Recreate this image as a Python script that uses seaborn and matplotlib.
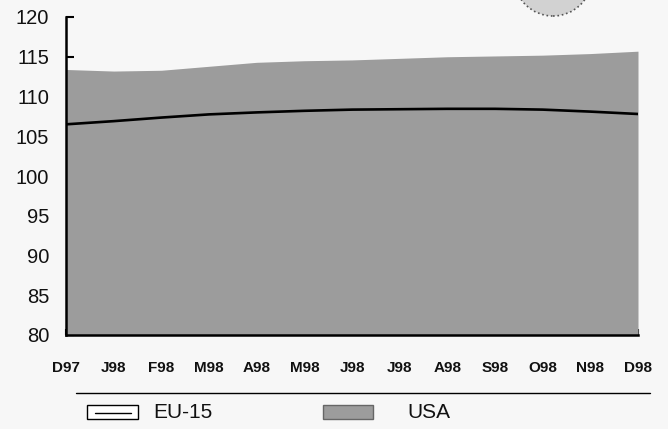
import numpy as np
import pandas as pd
import matplotlib
matplotlib.use("Agg")
import matplotlib.pyplot as plt
from matplotlib.patches import Rectangle, Ellipse
from matplotlib.lines import Line2D
import seaborn as sns

months = ["D97", "J98", "F98", "M98", "A98", "M98", "J98",
          "J98", "A98", "S98", "O98", "N98", "D98"]
eu15 = [106.5, 106.9, 107.35, 107.75, 108.0, 108.2, 108.35,
        108.4, 108.45, 108.45, 108.35, 108.1, 107.8]
usa = [113.4, 113.2, 113.3, 113.8, 114.3, 114.5, 114.6,
       114.8, 115.0, 115.1, 115.2, 115.4, 115.7]
y_ticks = [80, 85, 90, 95, 100, 105, 110, 115, 120]

df = pd.DataFrame({"pos": np.arange(len(months)), "month": months,
                   "EU-15": eu15, "USA": usa})

W, H = 668, 429
BG = "#f7f7f7"
GRAY = "#9c9c9c"

sns.set_theme(style="ticks")
plt.rcParams["font.family"] = ["Liberation Sans", "DejaVu Sans"]

fig = plt.figure(figsize=(W / 100, H / 100), dpi=100, facecolor=BG)
ax = fig.add_axes([66 / W, 1 - 335 / H, (638 - 66) / W, (335 - 17) / H])
ax.set_facecolor(BG)


def px(x, y):
    return x / W, 1 - y / H


# USA area
ax.fill_between(df["pos"], 80, df["USA"], color=GRAY, linewidth=0, zorder=1)
# EU-15 line
sns.lineplot(data=df, x="pos", y="EU-15", color="black", linewidth=1.9,
             ax=ax, zorder=3)

ax.set_xlim(0, 12)
ax.set_ylim(80, 120)
ax.set_xticks(df["pos"])
ax.set_xticklabels(months, fontsize=11, fontweight="bold")
ax.set_yticks(y_ticks)
ax.set_yticklabels([str(v) for v in y_ticks], fontsize=14.5)
ax.set_xlabel("")
ax.set_ylabel("")
ax.tick_params(axis="y", direction="in", length=6, width=1.5, pad=12, colors="black")
ax.tick_params(axis="x", direction="in", length=4, width=1.5, pad=19, colors="black")
ax.tick_params(labelcolor="#111111")
for s in ["top", "right"]:
    ax.spines[s].set_visible(False)
for s in ["left", "bottom"]:
    ax.spines[s].set_linewidth(1.8)
    ax.spines[s].set_color("black")

# decorative circle at top (from the scan)
r = 39
c = Ellipse(px(553, -23), 2 * r / W, 2 * r / H, transform=fig.transFigure,
            facecolor="#d2d2d2", edgecolor="#555555", linestyle=":", linewidth=1.2)
fig.add_artist(c)

# legend below
fig.add_artist(Line2D([76 / W, 650 / W], [1 - 393 / H] * 2, color="black",
                      linewidth=1.0, transform=fig.transFigure))
x0, y0 = px(87, 419)
fig.add_artist(Rectangle((x0, y0), 51 / W, 14 / H, transform=fig.transFigure,
                         facecolor="white", edgecolor="black", linewidth=1.0))
fig.add_artist(Line2D([95 / W, 131 / W], [1 - 413 / H] * 2, color="black",
                      linewidth=1.0, transform=fig.transFigure))
fig.text(153 / W, 1 - 412 / H, "EU-15", fontsize=15, va="center", ha="left",
         color="#111111")
x0, y0 = px(323, 419)
fig.add_artist(Rectangle((x0, y0), 50 / W, 14 / H, transform=fig.transFigure,
                         facecolor=GRAY, edgecolor="#666666", linewidth=1.0))
fig.text(407 / W, 1 - 412 / H, "USA", fontsize=15, va="center", ha="left",
         color="#111111")

fig.savefig("out.png", dpi=100, facecolor=BG)
